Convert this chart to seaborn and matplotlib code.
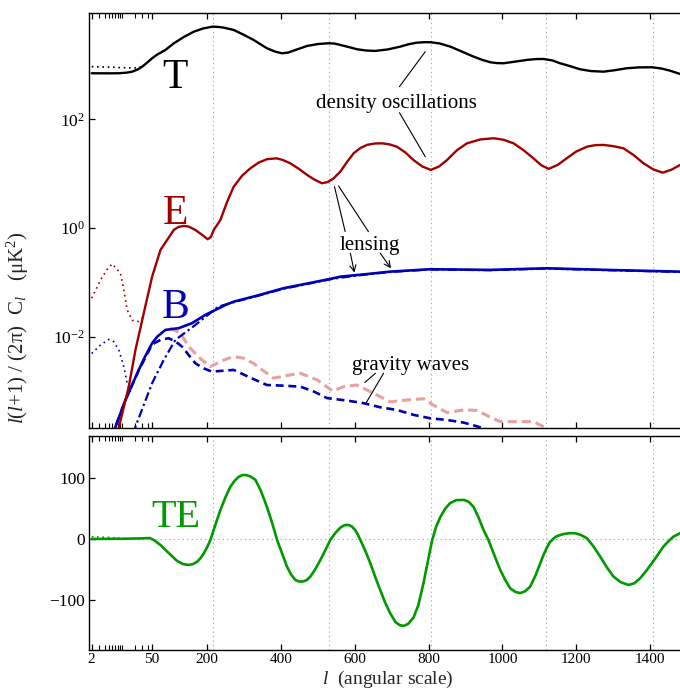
import numpy as np
import pandas as pd
import matplotlib
matplotlib.use("Agg")
import matplotlib.pyplot as plt
import seaborn as sns
from matplotlib.ticker import NullLocator

# ---------------- data ----------------
# Temperature (TT)
T_l = [2, 5, 8.5, 13, 17.5, 24, 30, 40, 51, 65, 87, 110, 137, 164, 190, 215, 230, 245, 272, 300,
       326, 362, 385, 403, 420, 434, 471, 500, 529, 545, 561, 585, 606, 630, 655, 690, 723, 745,
       768, 790, 806, 830, 859, 890, 922, 945, 967, 985, 1003, 1035, 1066, 1090, 1111, 1135, 1156,
       1183, 1210, 1240, 1274, 1305, 1337, 1370, 1405, 1430, 1454, 1481]
T_v = [702, 700, 702, 720, 751, 830, 929, 1120, 1325, 1550, 1884, 2502, 3266, 4090, 4700, 5058,
       5000, 4850, 4395, 3556, 2878, 2024, 1750, 1637, 1690, 1829, 2233, 2420, 2502, 2470, 2328,
       2120, 1941, 1840, 1806, 1930, 2167, 2390, 2567, 2620, 2612, 2480, 2167, 1760, 1419, 1240,
       1119, 1080, 1072, 1150, 1234, 1280, 1286, 1210, 1072, 950, 832, 770, 751, 800, 868, 900,
       905, 860, 784, 681]
T_lo_l = [2, 5, 10, 20, 30]
T_lo_v = [929, 910, 890, 880, 929]

# E-mode polarisation (EE)
E_l = [8, 14.6, 20.9, 32.6, 51, 73.6, 91.7, 109.6, 122, 136.6, 150, 168, 185, 201.6, 210, 218,
       236, 254, 272, 295, 317, 340, 362, 388, 405, 425, 448, 471, 490, 511, 527, 543, 561, 579,
       597, 615, 633, 654, 674, 694, 714, 737, 759, 783, 806, 828, 850, 877, 904, 940, 976, 1003,
       1030, 1057, 1084, 1105, 1125, 1150, 1174, 1200, 1229, 1252, 1274, 1300, 1328, 1355, 1382,
       1408, 1434, 1458, 1481]
E_v = [1.7e-4, 1.2e-3, 5.7e-3, 0.027, 0.127, 0.394, 0.601, 0.918, 1.04, 1.09, 1.06, 0.92, 0.76,
       0.62, 0.68, 0.92, 1.40, 3.0, 5.75, 9.2, 12.5, 16.0, 18.4, 19.1, 17.8, 15.5, 12.3, 9.44, 7.8,
       6.64, 7.0, 8.2, 10.9, 16.4, 23.7, 29.5, 33.7, 35.8, 36.1, 34.5, 31.3, 24.5, 17.8, 13.5,
       11.7, 13.5, 17.8, 27.0, 36.1, 42.5, 44.7, 42.0, 36.1, 27.0, 19.1, 14.3, 12.2, 14.5, 19.1,
       25.5, 31.3, 33.4, 33.7, 32.0, 29.2, 22.0, 15.5, 12.0, 10.4, 11.8, 14.4]
E_lo_l = [2, 3.2, 4.5, 6.0, 7.5, 9.35, 11.2, 13.4, 17.5, 25, 30]
E_lo_v = [0.051, 0.109, 0.17, 0.218, 0.18, 0.147, 0.072, 0.031, 0.020, 0.019, 0.022]

# B-mode total (lensing + gravity waves)
B_l = [6, 12.2, 24.9, 35, 51, 65, 87, 123, 159, 195, 250, 272, 340, 407, 475, 543, 561, 630,
       696, 804, 967, 1120, 1283, 1481]
B_v = [1.5e-4, 6.84e-4, 2.44e-3, 4.3e-3, 7.57e-3, 0.010, 0.0133, 0.0143, 0.0177, 0.0251, 0.0383,
       0.044, 0.058, 0.0778, 0.096, 0.119, 0.127, 0.141, 0.157, 0.174, 0.169, 0.181, 0.169, 0.157]
B_lo_l = [2, 3.2, 5.0, 6.5, 8.55, 11.2, 13.4, 16]
B_lo_v = [4.9e-3, 7.0e-3, 8.9e-3, 8.1e-3, 5.7e-3, 2.8e-3, 1.4e-3, 9.5e-4]

# B-mode from lensing only
BL_l = [19, 20.9, 35, 51, 82.5, 114, 168, 230.6, 272, 340, 407, 475, 543, 630, 696, 804, 967,
        1120, 1283, 1481]
BL_v = [1.6e-4, 2.2e-4, 6.4e-4, 1.39e-3, 3.72e-3, 8.7e-3, 0.0164, 0.0357, 0.043, 0.057, 0.076,
        0.094, 0.117, 0.139, 0.155, 0.172, 0.167, 0.179, 0.167, 0.155]

# B-mode from gravity waves (two amplitudes)
BG_l = [6, 12.2, 24.9, 51, 75, 96, 115, 132, 150, 168, 190, 213, 240, 272, 320, 362, 410, 453,
        490, 525, 580, 624, 670, 714, 760, 804, 850, 895, 940, 1000]
BG_v = [1.5e-4, 6.8e-4, 2.4e-3, 7.2e-3, 8.8e-3, 9.35e-3, 8.1e-3, 6.55e-3, 4.6e-3, 3.24e-3,
        2.62e-3, 2.27e-3, 2.35e-3, 2.44e-3, 1.72e-3, 1.29e-3, 1.25e-3, 1.20e-3, 9.7e-4, 7.4e-4,
        6.65e-4, 5.96e-4, 5.0e-4, 4.48e-4, 3.63e-4, 3.15e-4, 2.93e-4, 2.62e-4, 2.15e-4, 1.6e-4]
BG2_l = [100, 128, 150, 186, 209, 240, 271, 300, 325, 380, 420, 453, 498, 540, 570, 605, 651,
         696, 741, 786, 813, 850, 895, 931, 967, 994, 1048, 1084, 1120, 1150]
BG2_v = [0.0143, 0.0116, 6.55e-3, 3.72e-3, 2.81e-3, 3.6e-3, 4.29e-3, 4.0e-3, 3.24e-3, 1.72e-3,
         1.95e-3, 2.12e-3, 1.6e-3, 1.0e-3, 1.2e-3, 1.29e-3, 9.1e-4, 6.3e-4, 6.84e-4, 7.2e-4,
         5.5e-4, 4.0e-4, 4.48e-4, 4.4e-4, 3.29e-4, 2.73e-4, 2.73e-4, 2.73e-4, 2.06e-4, 1.5e-4]

# Temperature-polarisation cross spectrum (TE)
TE_l = [2, 10, 30, 45, 55, 73.6, 91.7, 118.8, 135, 150, 162, 173, 182, 191, 200, 209, 222, 236,
        250, 263, 275, 285.5, 296, 305.5, 318, 331, 345, 362, 376, 389.5, 403, 416.5, 428, 439,
        449, 459, 469, 479.6, 493, 506.7, 520, 533.8, 547, 561, 572, 583, 592, 601, 608, 615,
        628, 642, 655, 669, 682, 696, 710, 721, 732, 745, 759, 772, 786, 798, 809, 820, 831.5,
        845, 858, 875, 896.5, 909, 921.7, 935, 948.8, 962, 978, 994, 1008, 1021, 1035, 1048,
        1061, 1075, 1089, 1102, 1111, 1120, 1128, 1138, 1147, 1165, 1182, 1197, 1213, 1229, 1247,
        1265, 1283, 1301, 1320, 1341, 1357, 1373, 1389, 1405, 1420, 1436, 1450, 1463, 1481]
TE_v = [0.5, 0.8, 1.5, 2, -1, -9.3, -20, -35.5, -40.5, -42, -40.5, -36.6, -31, -23, -13, -1, 23,
        48, 69, 86, 96, 102, 105, 105, 102.5, 97, 80, 53, 27, -1, -23, -45, -58, -66.5, -69, -69,
        -67, -61, -49, -34, -18, -1, 10, 19, 23, 23.4, 21, 15.2, 8, -1, -18, -39, -61, -83, -103,
        -121, -135, -140, -141.7, -138, -128, -108, -72, -36, -3, 20, 36, 50, 59, 64, 64.2,
        61, 53, 36, 15.2, -1, -26, -50, -67, -80, -86, -88, -85, -77.5, -60, -40, -26, -14, -5,
        1, 5, 8.5, 10, 9.8, 7, 1.6, -12, -28.4, -46, -61, -70, -74.7, -72, -63.7, -52, -39, -26,
        -12, -3, 4.2, 9.8]
TE_lo_l = [2, 5, 10, 15]
TE_lo_v = [4.2, 3.0, 1.5, 0.8]

peak_l = [215, 529, 806, 1119, 1407]
xtick_vals = [2, 50, 200, 400, 600, 800, 1000, 1200, 1400]
xtick_minor = [3, 4, 5, 6, 7, 8, 9, 10, 20, 30, 40]

# ---------------- style ----------------
sns.set_theme(style="ticks")
plt.rcParams.update({
    "font.family": ["Liberation Serif", "DejaVu Serif"],
    "mathtext.fontset": "custom",
    "mathtext.rm": "Liberation Serif",
    "mathtext.it": "Liberation Serif:italic",
    "mathtext.bf": "Liberation Serif:bold",
    "axes.edgecolor": "black",
    "axes.linewidth": 1.0,
    "xtick.color": "black",
    "ytick.color": "black",
    "lines.solid_joinstyle": "round",
    "lines.solid_capstyle": "round",
})

RED = "#a00000"
BLUE = "#0000b4"
PINK = "#e8a0a0"
GREEN = "#009900"
GRID = "#a0a0a0"

# hybrid axis: log for l<50, linear above
K = 116.4


def fwd(l):
    l = np.asarray(l, dtype=float)
    lg = np.log10(np.maximum(l, 1e-6))
    return np.where(l >= 50, l, 50 - (np.log10(50) - lg) * K)


def inv(p):
    p = np.asarray(p, dtype=float)
    return np.where(p >= 50, p, 50 * 10 ** ((np.minimum(p, 50) - 50) / K))


fig = plt.figure(figsize=(6.8, 6.89), dpi=100)
ax1 = fig.add_axes([0.1313, 0.3784, 0.8687, 0.6032])
ax2 = fig.add_axes([0.1313, 0.0559, 0.8687, 0.3118])


def draw(ax, l, v, color, ls="-", lw=1.6, z=3):
    sns.lineplot(x=l, y=v, ax=ax, color=color, linestyle=ls, linewidth=lw,
                 zorder=z, estimator=None, sort=False, legend=False)


dot = (0, (1, 2.2))
# top panel
draw(ax1, BG2_l, BG2_v, PINK, ls=(0, (3, 1.6)), lw=2.2, z=2)
draw(ax1, BG_l, BG_v, BLUE, ls=(0, (3, 1.8)), lw=1.9, z=3)
draw(ax1, BL_l, BL_v, BLUE, ls=(0, (4, 1.5, 1, 1.5)), lw=1.6, z=3)
draw(ax1, B_l, B_v, BLUE, lw=1.9, z=4)
draw(ax1, B_lo_l, B_lo_v, BLUE, ls=dot, lw=1.2, z=3)
draw(ax1, E_l, E_v, RED, lw=1.7, z=4)
draw(ax1, E_lo_l, E_lo_v, RED, ls=dot, lw=1.2, z=3)
draw(ax1, T_l, T_v, "black", lw=1.7, z=4)
draw(ax1, T_lo_l, T_lo_v, "black", ls=dot, lw=1.2, z=3)
# bottom panel
draw(ax2, TE_l, TE_v, GREEN, lw=1.9, z=4)
draw(ax2, TE_lo_l, TE_lo_v, GREEN, ls=dot, lw=1.2, z=3)

for ax in (ax1, ax2):
    ax.set_xscale("function", functions=(fwd, inv))
    ax.set_xlim(1.76, 1481)
    for l in peak_l:
        ax.axvline(l, color=GRID, ls=(0, (1, 3)), lw=0.8, zorder=1)
    ax.set_xticks(xtick_vals)
    ax.set_xticks(xtick_minor, minor=True)
    ax.set_xticklabels([str(v) for v in xtick_vals])
    ax.spines["right"].set_visible(False)
    ax.tick_params(axis="both", which="both", direction="in", top=True, right=False,
                   colors="black")
    ax.tick_params(axis="both", which="major", length=4, width=0.9)
    ax.tick_params(axis="x", which="minor", length=3.3, width=0.8)
    ax.tick_params(axis="y", labelsize=12.5, pad=3)
    ax.tick_params(axis="x", labelsize=11, pad=1.5)
    ax.set_xlabel("")
    ax.set_ylabel("")

ax1.set_yscale("log")
ax1.set_ylim(2.06e-4, 9140)
ax1.set_yticks([1e-2, 1, 1e2])
ax1.yaxis.set_minor_locator(NullLocator())
ax1.tick_params(axis="x", labelbottom=False)

ax2.set_ylim(-181.7, 169.3)
ax2.set_yticks([-100, 0, 100])
ax2.axhline(0, color=GRID, ls=(0, (1, 3)), lw=0.8, zorder=1)

# big labels
big = dict(fontsize=30, ha="center", va="baseline")
ax1.text(114, 372, "T", color="black", **big)
ax1.text(114, 1.19, "E", color=RED, **big)
ax1.text(114, 0.0218, "B", color=BLUE, **big)
ax2.text(116, 19.6, "TE", color=GREEN, fontsize=29, ha="center", va="baseline")

# annotations
ann = dict(fontsize=15, ha="center", va="baseline", color="black")
line = dict(arrowstyle="-", lw=0.8, color="black", shrinkA=0, shrinkB=0)
arrow = dict(arrowstyle="->", lw=0.8, color="black", shrinkA=0, shrinkB=0, mutation_scale=11)
ax1.text(712, 159, "density oscillations", **ann)
ax1.annotate("", xy=(791, 1754), xytext=(721, 398), arrowprops=line)
ax1.annotate("", xy=(791, 20.5), xytext=(721, 132), arrowprops=line)

ax1.text(640, 0.394, "lensing", **ann)
ax1.annotate("", xy=(574, 0.855), xytext=(545, 5.76), arrowprops=line)
ax1.annotate("", xy=(637, 0.855), xytext=(556, 5.93), arrowprops=line)
ax1.annotate("", xy=(599, 0.151), xytext=(588, 0.343), arrowprops=arrow)
ax1.annotate("", xy=(698, 0.181), xytext=(669, 0.343), arrowprops=arrow)

ax1.text(750, 2.44e-3, "gravity waves", **ann)
ax1.annotate("", xy=(627, 1.43e-3), xytext=(656, 2.12e-3), arrowprops=line)
ax1.annotate("", xy=(631, 6.1e-4), xytext=(678, 2.12e-3), arrowprops=line)

# axis labels
fig.text(388 / 680, 1 - 679 / 689, r"$l$  (angular scale)", fontsize=14,
         ha="center", va="center")
fig.text(18 / 680, 1 - 328 / 689,
         r"$l$($l$+1) / (2$\mathrm{\pi}$)  C$_{l}$   ($\mathrm{\mu}$K$^{2}$)",
         fontsize=15, rotation=90, ha="center", va="center")

fig.savefig("out.png", dpi=100)
